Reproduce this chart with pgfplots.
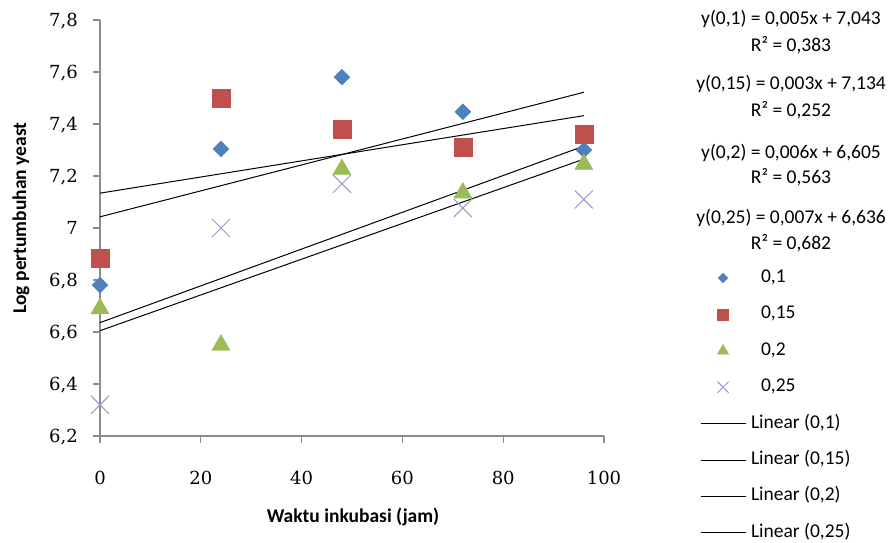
\documentclass[border=0pt]{standalone}
\usepackage{fontspec}
\setmainfont{Carlito}
\newfontfamily\tickserif{DejaVu Serif}
\usepackage{pgfplots}
\pgfplotsset{compat=1.18}
\definecolor{c1}{HTML}{4F81BD}
\definecolor{c2}{HTML}{C0504D}
\definecolor{c3}{HTML}{9BBB59}
\definecolor{c4}{HTML}{9D92C8}
\definecolor{axisgray}{HTML}{8C8C8C}
\begin{document}
\begin{tikzpicture}
\useasboundingbox (-100bp,-107bp) rectangle (794bp,436bp);
\begin{axis}[
  scale only axis,
  width=504bp, height=416bp,
  at={(0,0)}, anchor=south west,
  xmin=0, xmax=100, ymin=6.2, ymax=7.8,
  clip=false,
  axis x line=bottom, axis y line=left,
  axis line style={-, draw=axisgray, line width=1.1bp},
  tick align=outside,
  major tick length=7bp,
  tick style={draw=axisgray, line width=1.1bp},
  xtick={0,20,40,60,80,100},
  ytick={6.2,6.4,6.6,6.8,7,7.2,7.4,7.6,7.8},
  /pgf/number format/assume math mode=true,
  /pgf/number format/.cd, use comma, fixed, precision=1, /pgfplots/.cd,
  tick label style={font=\tickserif\fontsize{18bp}{20bp}\selectfont},
  xticklabel style={anchor=base, inner sep=0pt, yshift=-41.5bp},
  yticklabel style={anchor=base east, inner sep=0pt, xshift=-15bp, yshift=-6.5bp},
  xlabel={Waktu inkubasi (jam)},
  ylabel={Log pertumbuhan yeast},
  label style={font=\bfseries\fontsize{19.5bp}{22bp}\selectfont},
  xlabel style={at={(axis description cs:0.502,-0.1947)}, anchor=center},
  ylabel style={at={(axis description cs:-0.1567,0.524)}, anchor=center, rotate=0},
  legend style={at={(axis description cs:1.1905,0.4002)}, anchor=north west,
    draw=none, fill=none, inner sep=0pt, outer sep=0pt, row sep=19.4bp,
    font=\fontsize{19.5bp}{22bp}\selectfont,
    nodes={inner sep=0pt, text height=13bp, text depth=4bp},
    /tikz/every odd column/.append style={column sep=5bp}},
  legend cell align=left,
]
\pgfplotsset{
  markleg/.style={legend image code/.code={%
    \draw[mark repeat=2,mark phase=2,##1,/tikz/every mark/.append style={scale=0.62}]
      plot coordinates {(0bp,0bp)(22.5bp,0bp)(45bp,0bp)};}},
  lineleg/.style={legend image code/.code={%
    \draw[##1] (0bp,0bp) -- (45bp,0bp);}},
}
\addplot[only marks, markleg, mark=square*, mark size=5.6bp,
  mark options={rotate=45, fill=c1, draw=c1}]
  coordinates {(0,6.78) (24,7.304) (48,7.58) (72,7.447) (96,7.30)};
\addlegendentry{\hspace*{10bp}0,1}
\addplot[only marks, markleg, mark=square*, mark size=9bp,
  mark options={fill=c2, draw=c2}]
  coordinates {(0,6.885) (24,7.50) (48,7.38) (72,7.31) (96,7.36)};
\addlegendentry{\hspace*{10bp}0,15}
\addplot[only marks, markleg, mark=triangle*, mark size=10.5bp,
  mark options={fill=c3, draw=c3}]
  coordinates {(0,6.69) (24,6.55) (48,7.225) (72,7.135) (96,7.245)};
\addlegendentry{\hspace*{10bp}0,2}
\addplot[only marks, markleg, mark=x, mark size=12.7bp,
  mark options={draw=c4, line width=1bp}]
  coordinates {(0,6.32) (24,7.00) (48,7.17) (72,7.077) (96,7.11)};
\addlegendentry{\hspace*{10bp}0,25}
\addplot[lineleg, black, line width=1bp] coordinates {(0,7.043) (96,7.522)};
\addlegendentry{Linear (0,1)}
\addplot[lineleg, black, line width=1bp] coordinates {(0,7.134) (96,7.432)};
\addlegendentry{Linear (0,15)}
\addplot[lineleg, black, line width=1bp] coordinates {(0,6.636) (96,7.315)};
\addlegendentry{Linear (0,2)}
\addplot[lineleg, black, line width=1bp] coordinates {(0,6.605) (96,7.265)};
\addlegendentry{Linear (0,25)}
\end{axis}
\begin{scope}[every node/.style={anchor=base, inner sep=0pt, font=\fontsize{19.5bp}{22bp}\selectfont}]
\node at (691bp,411.8bp) {y(0,1) = 0,005x + 7,043};
\node at (691bp,384.8bp) {R² = 0,383};
\node at (691bp,346.8bp) {y(0,15) = 0,003x + 7,134};
\node at (691bp,319.8bp) {R² = 0,252};
\node at (691bp,277.8bp) {y(0,2) = 0,006x + 6,605};
\node at (691bp,252.8bp) {R² = 0,563};
\node at (691bp,212.8bp) {y(0,25) = 0,007x + 6,636};
\node at (691bp,186.8bp) {R² = 0,682};
\end{scope}
\end{tikzpicture}
\end{document}
